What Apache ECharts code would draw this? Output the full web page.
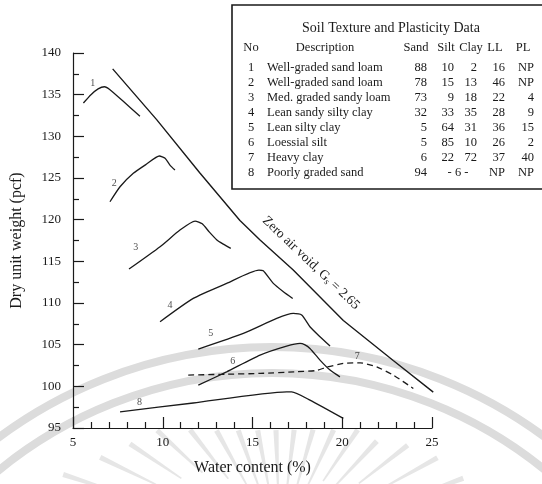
<!DOCTYPE html>
<html>
<head>
<meta charset="utf-8">
<script src="https://cdn.jsdelivr.net/npm/echarts@6/dist/echarts.min.js"></script>
<style>
  html, body { margin: 0; padding: 0; background: #fff; }
  #chart { width: 542px; height: 484px; }
</style>
</head>
<body>
<div id="chart"></div>
<script>
// Axis tick labels
const xTickLabels = [5, 10, 15, 20, 25];
const yTickLabels = [95, 100, 105, 110, 115, 120, 125, 130, 135, 140];

// Compaction curves: [water content %, dry unit weight pcf]
const curve1 = [[5.58, 134.0], [6.0, 135.0], [6.4, 135.7], [6.75, 135.95], [7.06, 135.6], [7.8, 134.2], [8.73, 132.4]];
const curve2 = [[7.06, 122.15], [7.62, 123.95], [8.36, 125.56], [9.1, 126.67], [9.81, 127.64], [10.13, 127.36], [10.4, 126.55], [10.68, 125.95]];
const curve3 = [[8.12, 114.07], [9.85, 116.75], [10.96, 118.75], [11.8, 119.83], [12.2, 119.5], [12.6, 118.5], [13.0, 117.6], [13.37, 117.07], [13.79, 116.55]];
const curve4 = [[9.85, 107.75], [11.7, 110.55], [13.56, 112.35], [15.36, 113.95], [15.6, 113.87], [16.16, 112.35], [16.72, 111.35], [17.24, 110.55]];
const curve5 = [[11.98, 104.47], [14.49, 106.35], [16.35, 108.15], [17.27, 108.75], [17.74, 108.55], [18.2, 107.15], [18.76, 105.95], [19.32, 104.83]];
const curve6 = [[11.98, 100.14], [13.56, 101.74], [15.42, 103.75], [16.9, 104.83], [17.65, 105.15], [17.9, 105.0], [18.2, 104.55], [18.76, 103.15], [19.32, 101.95], [19.87, 101.14]];
const curve7 = [[11.42, 101.35], [13.5, 101.45], [15.42, 101.55], [17.5, 101.75], [18.57, 101.9], [19.13, 102.3], [20.06, 102.75], [21.0, 102.82], [21.92, 102.34], [22.84, 101.35], [23.96, 99.75]];
const curve8 = [[7.62, 96.94], [11.7, 98.0], [16.9, 99.34], [17.18, 99.34], [18.2, 98.35], [20.06, 96.15]];
const zeroAirVoid = [[7.21, 138.1], [9.66, 132.0], [12.07, 125.6], [14.3, 119.9], [15.42, 117.55], [17.27, 113.95], [20.06, 107.9], [22.84, 103.1], [25.07, 99.3]];

// Curve number labels
const curveLabelNames = ['1', '2', '3', '4', '5', '6', '7', '8'];
const curveLabelPos = [[6.1, 136.4], [7.3, 124.4], [8.5, 116.7], [10.4, 109.75], [12.67, 106.35], [13.9, 103.0], [20.84, 103.6], [8.7, 98.1]];

// Soil texture and plasticity table
const tableTitle = 'Soil Texture and Plasticity Data';
const tableHeaders = ['No', 'Description', 'Sand', 'Silt', 'Clay', 'LL', 'PL'];
const tableNo = ['1', '2', '3', '4', '5', '6', '7', '8'];
const tableDesc = ['Well-graded sand loam', 'Well-graded sand loam', 'Med. graded sandy loam', 'Lean sandy silty clay',
  'Lean silty clay', 'Loessial silt', 'Heavy clay', 'Poorly graded sand'];
const tableSand = ['88', '78', '73', '32', '5', '5', '6', '94'];
const tableSilt = ['10', '15', '9', '33', '64', '85', '22', ''];
const tableClay = ['2', '13', '18', '35', '31', '10', '72', ''];
const tableFines = ['', '', '', '', '', '', '', '- 6 -'];
const tableLL = ['16', '46', '22', '28', '36', '26', '37', 'NP'];
const tablePL = ['NP', 'NP', '4', '9', '15', '2', '40', 'NP'];

const FONT = '"Liberation Serif", "DejaVu Serif", serif';
const INK = '#1a1a1a';

const chart = echarts.init(document.getElementById('chart'), null, { renderer: 'canvas' });

// Faint background emblem: two arcs and a fan of tapered rays
const emblem = [];
const ecx = 272, ecy = 805;
[458, 432].forEach(function (r) {
  emblem.push({
    type: 'arc', z: -10, silent: true,
    shape: { cx: ecx, cy: ecy, r: r, startAngle: Math.PI, endAngle: Math.PI * 2 },
    style: { stroke: '#dcdcdc', lineWidth: 8, fill: null }
  });
});
const rcx = 280, rcy = 545;
const rayAngles = [198, 206, 214, 223, 232, 241, 250, 259, 268, 277, 286, 295, 304, 313, 322, 331, 340];
const rayReach = [228, 200, 181, 168, 146, 131, 122, 117, 115, 116, 120, 127, 139, 142, 162, 180, 195];
rayAngles.forEach(function (a, k) {
  const t = a * Math.PI / 180;
  const ro = rayReach[k];
  const ri = ro - 62;
  const nx = -Math.sin(t), ny = Math.cos(t);
  const wo = 2.6, wi = 0.8;
  const ox = rcx + ro * Math.cos(t), oy = rcy + ro * Math.sin(t);
  const ix = rcx + ri * Math.cos(t), iy = rcy + ri * Math.sin(t);
  emblem.push({
    type: 'polygon', z: -10, silent: true,
    shape: { points: [[ox + nx * wo, oy + ny * wo], [ox - nx * wo, oy - ny * wo], [ix - nx * wi, iy - ny * wi], [ix + nx * wi, iy + ny * wi]] },
    style: { fill: '#e6e6e6' }
  });
});

// Table graphic
const tbl = [];
const tbX = 232, tbY = 5;
tbl.push({
  type: 'rect', z: 50,
  shape: { x: tbX, y: tbY, width: 314, height: 184 },
  style: { fill: '#fff', stroke: INK, lineWidth: 1.6 }
});
function tText(x, y, s, align, size) {
  tbl.push({
    type: 'text', z: 51, x: x, y: y,
    style: { text: s, font: (size || 12.5) + 'px ' + FONT, fill: INK, align: align || 'left', verticalAlign: 'middle' }
  });
}
tText(391, 28, tableTitle, 'center', 14);
const headX = [251, 325, 416, 446, 471, 495, 523];
tableHeaders.forEach(function (h, i) { tText(headX[i], 48, h, 'center', 12.5); });
for (let i = 0; i < tableNo.length; i++) {
  const y = 68 + i * 15;
  tText(251, y, tableNo[i], 'center');
  tText(267, y, tableDesc[i], 'left');
  tText(427, y, tableSand[i], 'right');
  if (tableFines[i]) {
    tText(458, y, tableFines[i], 'center');
  } else {
    tText(454, y, tableSilt[i], 'right');
    tText(477, y, tableClay[i], 'right');
  }
  tText(505, y, tableLL[i], 'right');
  tText(534, y, tablePL[i], 'right');
}

// Zero-air-void annotation
const zavNote = {
  type: 'text', z: 20, x: 311, y: 263, rotation: -0.76,
  style: {
    text: '{a|Zero air void, G}{s|s}{a| = 2.65}',
    rich: {
      a: { font: '13.5px ' + FONT, fill: INK },
      s: { font: '9px ' + FONT, fill: INK, verticalAlign: 'bottom', padding: [6, 0, 0, 0] }
    },
    align: 'center', verticalAlign: 'middle'
  }
};

function lineSeries(data, dashed) {
  return {
    type: 'line', data: data, showSymbol: false, smooth: 0.2, silent: true,
    lineStyle: { color: INK, width: 1.3, type: dashed ? [6, 4] : 'solid' },
    z: 5
  };
}

chart.setOption({
  animation: false,
  backgroundColor: '#fff',
  grid: { left: 73, right: 110, top: 53, bottom: 56, containLabel: false },
  xAxis: {
    type: 'value', min: xTickLabels[0], max: xTickLabels[xTickLabels.length - 1], interval: 5,
    name: 'Water content (%)', nameLocation: 'middle', nameGap: 32,
    nameTextStyle: { fontFamily: FONT, fontSize: 16, color: INK },
    axisLine: { lineStyle: { color: INK, width: 1.2 } },
    axisTick: { inside: true, length: 11, lineStyle: { color: INK, width: 1.2 } },
    minorTick: { show: true, splitNumber: 5, length: 6, lineStyle: { color: INK, width: 1.2 } },
    axisLabel: { margin: 8, fontFamily: FONT, fontSize: 13, color: INK },
    splitLine: { show: false }
  },
  yAxis: {
    type: 'value', min: yTickLabels[0], max: yTickLabels[yTickLabels.length - 1], interval: 5,
    name: 'Dry unit weight (pcf)', nameLocation: 'middle', nameGap: 48,
    nameTextStyle: { fontFamily: FONT, fontSize: 16, color: INK },
    axisLine: { lineStyle: { color: INK, width: 1.2 } },
    axisTick: { inside: true, length: 11, lineStyle: { color: INK, width: 1.2 } },
    minorTick: { show: true, splitNumber: 2, length: 6, lineStyle: { color: INK, width: 1.2 } },
    axisLabel: { margin: 12, fontFamily: FONT, fontSize: 13, color: INK },
    splitLine: { show: false }
  },
  series: [
    lineSeries(curve1), lineSeries(curve2), lineSeries(curve3), lineSeries(curve4),
    lineSeries(curve5), lineSeries(curve6), lineSeries(curve7, true), lineSeries(curve8),
    Object.assign(lineSeries(zeroAirVoid), { smooth: false, lineStyle: { color: INK, width: 1.4 } }),
    {
      type: 'scatter', symbolSize: 0, silent: true, z: 6,
      data: curveLabelPos.map(function (p, i) { return [p[0], p[1], curveLabelNames[i]]; }),
      label: {
        show: true, position: 'inside', formatter: function (p) { return p.value[2]; },
        fontFamily: FONT, fontSize: 10, color: INK
      }
    }
  ],
  graphic: { elements: emblem.concat(tbl, [zavNote]) }
});
</script>
</body>
</html>
